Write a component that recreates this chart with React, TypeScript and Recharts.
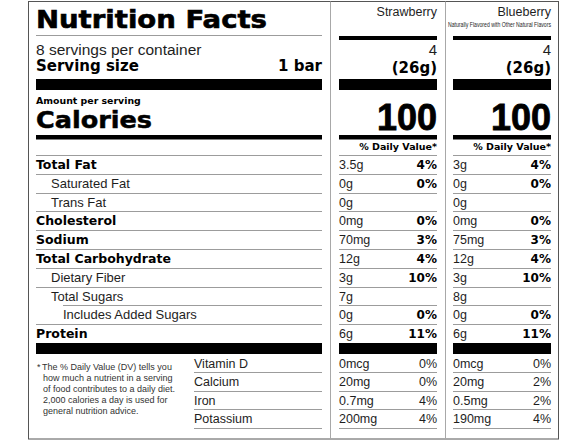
import { ComposedChart, Bar, XAxis, YAxis, Customized } from 'recharts'

// label data
const nutrients = ['Total Fat', 'Saturated Fat', 'Trans Fat', 'Cholesterol', 'Sodium', 'Total Carbohydrate', 'Dietary Fiber', 'Total Sugars', 'Includes Added Sugars', 'Protein']
const levels = [0, 1, 1, 0, 0, 0, 1, 1, 2, 0]
const strawberryAmounts = ['3.5g', '0g', '0g', '0mg', '70mg', '12g', '3g', '7g', '0g', '6g']
const strawberryDv = [4, 0, null, 0, 3, 4, 10, null, 0, 11]
const blueberryAmounts = ['3g', '0g', '0g', '0mg', '75mg', '12g', '3g', '8g', '0g', '6g']
const blueberryDv = [4, 0, null, 0, 3, 4, 10, null, 0, 11]

const vitamins = ['Vitamin D', 'Calcium', 'Iron', 'Potassium']
const strawberryVitAmounts = ['0mcg', '20mg', '0.7mg', '200mg']
const strawberryVitDv = [0, 0, 4, 4]
const blueberryVitAmounts = ['0mcg', '20mg', '0.5mg', '190mg']
const blueberryVitDv = [0, 2, 2, 4]

const flavors = ['Strawberry', 'Blueberry']
const flavorNotes = ['', 'Naturally Flavored with Other Natural Flavors']
const servingsPerContainer = 8
const servingSize = '1 bar'
const servingsPerFlavor = [4, 4]
const servingGrams = [26, 26]
const calories = [100, 100]
const footnote = [
  'The % Daily Value (DV) tells you',
  'how much a nutrient in a serving',
  'of food contributes to a daily diet.',
  '2,000 calories a day is used for',
  'general nutrition advice.',
]

// layout
const W = 588
const H = 441
const LEFT = 36
const LEFT_END = 322
const COLS = [{ x0: 339, x1: 437 }, { x0: 453, x1: 551 }]
const MAIN_TOP = 155
const MAIN_BOTTOM = 343
const VIT_TOP = 354
const VIT_BOTTOM = 427.5
const MAIN_ROW = (MAIN_BOTTOM - MAIN_TOP) / nutrients.length
const VIT_ROW = (VIT_BOTTOM - VIT_TOP) / vitamins.length
const INDENT = [36, 51, 63]

const BOLD = '"DejaVu Sans", sans-serif'
const REG = '"Liberation Sans", Arial, sans-serif'
const LINE = '#9c9c9c'
const INK = '#1e1e1e'

const mainRows = nutrients.map((name, i) => ({
  name,
  level: levels[i],
  s: strawberryAmounts[i],
  sDv: strawberryDv[i],
  b: blueberryAmounts[i],
  bDv: blueberryDv[i],
}))

const vitRows = vitamins.map((name, i) => ({
  name,
  s: strawberryVitAmounts[i],
  sDv: strawberryVitDv[i],
  b: blueberryVitAmounts[i],
  bDv: blueberryVitDv[i],
}))

const crisp = (v: number) => Math.round(v) + 0.5

function NutrientTick(props: any) {
  const { y, payload } = props
  const i = payload.index
  const r = mainRows[i]
  const top = y - MAIN_ROW / 2
  const base = top + 14
  const bold = r.level === 0
  const next = mainRows[i + 1]
  const lineY = crisp(top + MAIN_ROW)
  const lineStart = next && next.level === 2 ? INDENT[2] : LEFT
  const cols = [{ amt: r.s, dv: r.sDv }, { amt: r.b, dv: r.bDv }]
  return (
    <g>
      <text x={INDENT[r.level]} y={base} fontFamily={bold ? BOLD : REG} fontWeight={bold ? 'bold' : 'normal'}
        fontSize={bold ? 12.5 : 13} fill={bold ? '#000' : INK}>{r.name}</text>
      {cols.map((c, k) => (
        <g key={k}>
          <text x={COLS[k].x0} y={base} fontFamily={REG} fontSize={12.5} fill={INK}>{c.amt}</text>
          {c.dv !== null && (
            <text x={COLS[k].x1} y={base} textAnchor="end" fontFamily={BOLD} fontWeight="bold" fontSize={12} fill="#000">{c.dv}%</text>
          )}
        </g>
      ))}
      {next && (
        <g stroke={LINE} strokeWidth={1}>
          <line x1={lineStart} x2={LEFT_END} y1={lineY} y2={lineY} />
          {COLS.map((c, k) => <line key={k} x1={c.x0} x2={c.x1} y1={lineY} y2={lineY} />)}
        </g>
      )}
    </g>
  )
}

function VitaminTick(props: any) {
  const { y, payload } = props
  const i = payload.index
  const r = vitRows[i]
  const top = y - VIT_ROW / 2
  const base = top + 14
  const lineY = crisp(top + VIT_ROW)
  const cols = [{ amt: r.s, dv: r.sDv }, { amt: r.b, dv: r.bDv }]
  return (
    <g>
      <text x={194} y={base} fontFamily={REG} fontSize={12.5} fill={INK}>{r.name}</text>
      {cols.map((c, k) => (
        <g key={k}>
          <text x={COLS[k].x0} y={base} fontFamily={REG} fontSize={12.5} fill={INK}>{c.amt}</text>
          <text x={COLS[k].x1} y={base} textAnchor="end" fontFamily={REG} fontSize={12.5} fill={INK}>{c.dv}%</text>
        </g>
      ))}
      <g stroke={LINE} strokeWidth={1}>
        <line x1={194} x2={LEFT_END} y1={lineY} y2={lineY} />
        {COLS.map((c, k) => <line key={k} x1={c.x0} x2={c.x1} y1={lineY} y2={lineY} />)}
      </g>
    </g>
  )
}

function Frame() {
  const bar = (y: number, h: number) => (
    <g fill="#000">
      <rect x={LEFT} y={y} width={LEFT_END - LEFT} height={h} />
      {COLS.map((c, k) => <rect key={k} x={c.x0} y={y} width={c.x1 - c.x0} height={h} />)}
    </g>
  )
  return (
    <g>
      <rect x={28.5} y={1.5} width={530} height={437.5} fill="none" stroke="#555" strokeWidth={1} />
      <line x1={330.5} x2={330.5} y1={1.5} y2={439} stroke="#a8a8a8" />
      <line x1={445.5} x2={445.5} y1={1.5} y2={439} stroke="#a8a8a8" />

      <text x={LEFT} y={28} fontFamily={BOLD} fontWeight="bold" fontSize={24} textLength={231} lengthAdjust="spacingAndGlyphs" stroke="#000" strokeWidth={0.6} fill="#000">Nutrition Facts</text>
      <line x1={LEFT} x2={LEFT_END} y1={35.5} y2={35.5} stroke={LINE} />

      <text x={LEFT} y={55} fontFamily={REG} fontSize={15.5} fill={INK}>{servingsPerContainer} servings per container</text>
      <text x={LEFT} y={71} fontFamily={BOLD} fontWeight="bold" fontSize={15} fill="#000">Serving size</text>
      <text x={LEFT_END} y={71} textAnchor="end" fontFamily={BOLD} fontWeight="bold" fontSize={15} fill="#000">{servingSize}</text>

      <text x={LEFT} y={104} fontFamily={BOLD} fontWeight="bold" fontSize={9.4} fill="#000">Amount per serving</text>
      <text x={LEFT} y={128} fontFamily={BOLD} fontWeight="bold" fontSize={23} textLength={116} lengthAdjust="spacingAndGlyphs" stroke="#000" strokeWidth={0.5} fill="#000">Calories</text>

      {flavors.map((f, k) => (
        <g key={f}>
          <text x={COLS[k].x1} y={16} textAnchor="end" fontFamily={REG} fontSize={12.5} fill={INK}>{f}</text>
          {flavorNotes[k] && (
            <text x={COLS[k].x0 - 5} y={26.5} fontFamily={REG} fontSize={6.5} textLength={103} lengthAdjust="spacingAndGlyphs" fill={INK}>{flavorNotes[k]}</text>
          )}
          <rect x={COLS[k].x0} y={36} width={COLS[k].x1 - COLS[k].x0} height={4} fill="#000" />
          <text x={COLS[k].x1} y={55} textAnchor="end" fontFamily={REG} fontSize={15} fill={INK}>{servingsPerFlavor[k]}</text>
          <text x={COLS[k].x1} y={72.5} textAnchor="end" fontFamily={BOLD} fontWeight="bold" fontSize={15} fill="#000">({servingGrams[k]}g)</text>
          <text x={COLS[k].x1} y={130} textAnchor="end" fontFamily={REG} fontWeight="bold" fontSize={36} stroke="#000" strokeWidth={0.8} fill="#000">{calories[k]}</text>
          <text x={COLS[k].x1} y={150} textAnchor="end" fontFamily={BOLD} fontWeight="bold" fontSize={9.5} fill="#000">% Daily Value*</text>
        </g>
      ))}

      {bar(79, 11)}
      {bar(135, 4.5)}
      {bar(343, 11)}

      <g stroke={LINE}>
        <line x1={LEFT} x2={LEFT_END} y1={155.5} y2={155.5} />
        {COLS.map((c, k) => <line key={k} x1={c.x0} x2={c.x1} y1={155.5} y2={155.5} />)}
      </g>

      <g fontFamily={REG} fontSize={9} fill="#333">
        <text x={37} y={369.5}>*</text>
        {footnote.map((t, k) => (
          <text key={k} x={k === 0 ? 42 : 43} y={369.5 + k * 11}>{t}</text>
        ))}
      </g>
    </g>
  )
}

export default function App() {
  return (
    <div style={{ position: 'absolute', left: 0, top: 0, width: W, height: H, background: '#fff' }}>
      <div style={{ position: 'absolute', left: 0, top: 0 }}>
        <ComposedChart width={W} height={H} layout="vertical" data={mainRows}
          margin={{ top: MAIN_TOP, right: W - 551, bottom: H - MAIN_BOTTOM, left: LEFT - 1 }}>
          <XAxis type="number" hide domain={[0, 20]} />
          <YAxis type="category" dataKey="name" width={1} axisLine={false} tickLine={false} interval={0}
            tick={(p: any) => <NutrientTick {...p} />} />
          <Bar dataKey="sDv" fill="none" isAnimationActive={false} />
          <Customized component={Frame} />
        </ComposedChart>
      </div>
      <div style={{ position: 'absolute', left: 0, top: 0 }}>
        <ComposedChart width={W} height={H} layout="vertical" data={vitRows}
          margin={{ top: VIT_TOP, right: W - 551, bottom: H - VIT_BOTTOM, left: LEFT - 1 }}>
          <XAxis type="number" hide domain={[0, 20]} />
          <YAxis type="category" dataKey="name" width={1} axisLine={false} tickLine={false} interval={0}
            tick={(p: any) => <VitaminTick {...p} />} />
          <Bar dataKey="sDv" fill="none" isAnimationActive={false} />
        </ComposedChart>
      </div>
    </div>
  )
}
